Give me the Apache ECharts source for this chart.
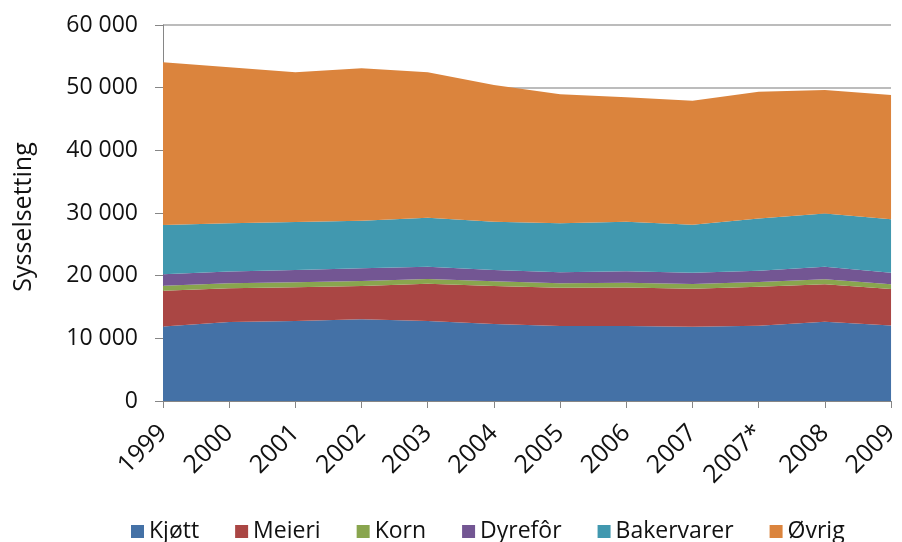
<!DOCTYPE html>
<html>
<head>
<meta charset="utf-8">
<script src="https://cdn.jsdelivr.net/npm/echarts@6/dist/echarts.min.js"></script>
<style>
  html, body { margin: 0; padding: 0; background: #fff; }
  #main { width: 902px; height: 542px; }
</style>
</head>
<body>
<div id="main"></div>
<script>
var years = ['1999', '2000', '2001', '2002', '2003', '2004', '2005', '2006', '2007', '2007*', '2008', '2009'];
var kjott = [11900, 12600, 12750, 13050, 12750, 12300, 11950, 11950, 11850, 12000, 12650, 12050];
var meieri = [5700, 5400, 5400, 5300, 5950, 6050, 6130, 6180, 6070, 6240, 5970, 5820];
var korn = [800, 800, 800, 800, 750, 750, 700, 750, 750, 750, 800, 750];
var dyrefor = [1810, 1850, 1960, 2020, 1960, 1800, 1750, 1810, 1810, 1810, 2010, 1860];
var bakervarer = [7870, 7720, 7660, 7600, 7820, 7710, 7820, 7920, 7660, 8340, 8510, 8510];
var ovrig = [25960, 24900, 23890, 24320, 23250, 21810, 20590, 19850, 19780, 20220, 19680, 19840];
var yTicks = [0, 10000, 20000, 30000, 40000, 50000, 60000];

var names = ['Kjøtt', 'Meieri', 'Korn', 'Dyrefôr', 'Bakervarer', 'Øvrig'];
var colors = ['#4471a6', '#aa4644', '#89a54e', '#735693', '#4198af', '#db843d'];
var values = [kjott, meieri, korn, dyrefor, bakervarer, ovrig];
var font = 'Open Sans';

var myChart = echarts.init(document.getElementById('main'));

var series = [];
for (var i = 0; i < names.length; i++) {
  series.push({
    name: names[i],
    type: 'line',
    stack: 'total',
    data: values[i],
    symbol: 'none',
    lineStyle: { width: 0 },
    areaStyle: { color: colors[i], opacity: 1 },
    itemStyle: { color: colors[i] }
  });
}

var option = {
  animation: false,
  textStyle: { fontFamily: font },
  grid: { left: 163, right: 5, top: 25, bottom: 141, containLabel: false },
  legend: {
    data: names,
    top: 515,
    left: 126,
    icon: 'rect',
    itemWidth: 13,
    itemHeight: 13,
    itemGap: 36,
    textStyle: { fontFamily: font, fontSize: 23, color: '#111' }
  },
  graphic: [{
    type: 'text',
    x: 24,
    y: 217,
    rotation: Math.PI / 2,
    style: {
      text: 'Sysselsetting',
      font: '25px "Open Sans"',
      fill: '#111',
      align: 'center',
      verticalAlign: 'middle',
      textAlign: 'center',
      textVerticalAlign: 'middle'
    }
  }],
  xAxis: {
    type: 'category',
    data: years,
    boundaryGap: false,
    axisLine: { lineStyle: { color: '#868686', width: 1 } },
    axisTick: { show: true, length: 7, lineStyle: { color: '#868686' } },
    axisLabel: { rotate: 45, interval: 0, fontSize: 25, color: '#111', margin: 28 }
  },
  yAxis: {
    type: 'value',
    min: yTicks[0],
    max: yTicks[yTicks.length - 1],
    interval: 10000,
    axisLine: { show: true, lineStyle: { color: '#868686', width: 1 } },
    axisTick: { show: true, length: 8, lineStyle: { color: '#868686' } },
    splitLine: { show: true, lineStyle: { color: '#a6a6a6', width: 1.5 } },
    axisLabel: {
      fontSize: 23,
      color: '#111',
      margin: 25,
      formatter: function (v) {
        return String(v).replace(/\B(?=(\d{3})+(?!\d))/g, ' ');
      }
    }
  },
  series: series
};
myChart.setOption(option);
</script>
</body>
</html>
